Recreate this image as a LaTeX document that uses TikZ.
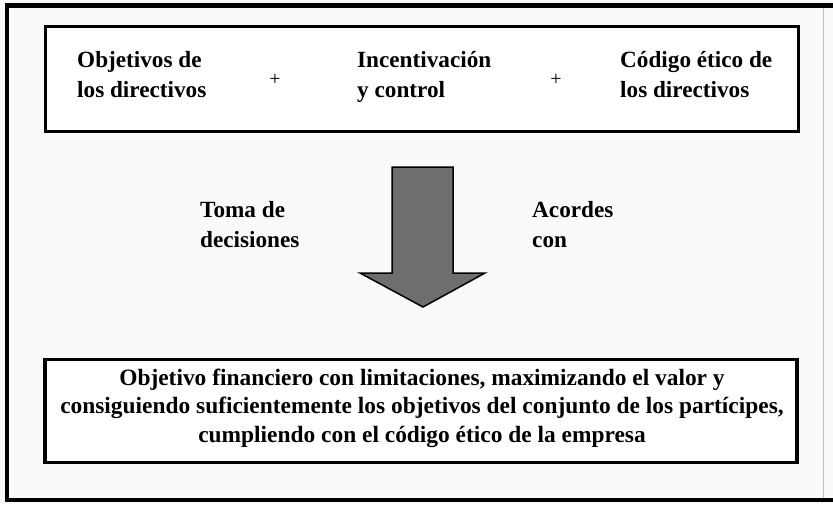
\documentclass[tikz,border=0pt]{standalone}
\usepackage{fontspec}
\setmainfont{Liberation Serif}
\definecolor{arrowgray}{HTML}{6E6E6E}
\definecolor{paper}{HTML}{FAFAFA}
\begin{document}
\begin{tikzpicture}[x=1pt,y=-1pt,
  lbl/.style={font=\fontsize{23.2}{29.5}\selectfont\bfseries, inner sep=0pt, align=left, anchor=base west},
  plus/.style={font=\fontsize{20}{20}\selectfont, inner sep=0pt},
  frameline/.style={line width=4.5pt, draw=black},
  boxline/.style={draw=black, line width=3.5pt, fill=white}]
\useasboundingbox (0,0) rectangle (833,504);
\fill[paper] (0,0) rectangle (833,504);
% outer frame
\draw[frameline] (4.75,5.5) -- (833,5.5);
\draw[frameline] (7,3.25) -- (7,502.25);
\draw[frameline] (4.75,500) -- (833,500);
\draw[black!25, line width=1pt] (823,8) -- (823,498);
% top box
\node[boxline, minimum width=753pt, minimum height=105pt, inner sep=0pt] (top) at (422,79) {};
\node[lbl] (obj) at (77,97) {Objetivos de\\los directivos};
\node[plus] (p1) at (275,80) {+};
\node[lbl] (inc) at (357,97) {Incentivación\\y control};
\node[plus] (p2) at (556,80) {+};
\node[lbl] (cod) at (620,97) {Código ético de\\los directivos};
% arrow
\draw[fill=arrowgray, draw=black, line width=1.5pt, line join=miter]
  (392,167) -- (453,167) -- (453,273) -- (485,273) -- (423,307) -- (360,273) -- (392,273) -- cycle;
\node[lbl] (toma) at (200,247) {Toma de\\decisiones};
\node[lbl] (acor) at (532,247) {Acordes\\con};
% bottom box
\node[boxline, minimum width=752pt, minimum height=103pt, inner sep=0pt] (bot) at (421,411) {};
\node[font=\fontsize{23.4}{28.5}\selectfont\bfseries, inner sep=0pt, align=center] (res) at (422,408)
  {Objetivo financiero con limitaciones, maximizando el valor y\\
   consiguiendo suficientemente los objetivos del conjunto de los partícipes,\\
   cumpliendo con el código ético de la empresa};
\end{tikzpicture}
\end{document}
